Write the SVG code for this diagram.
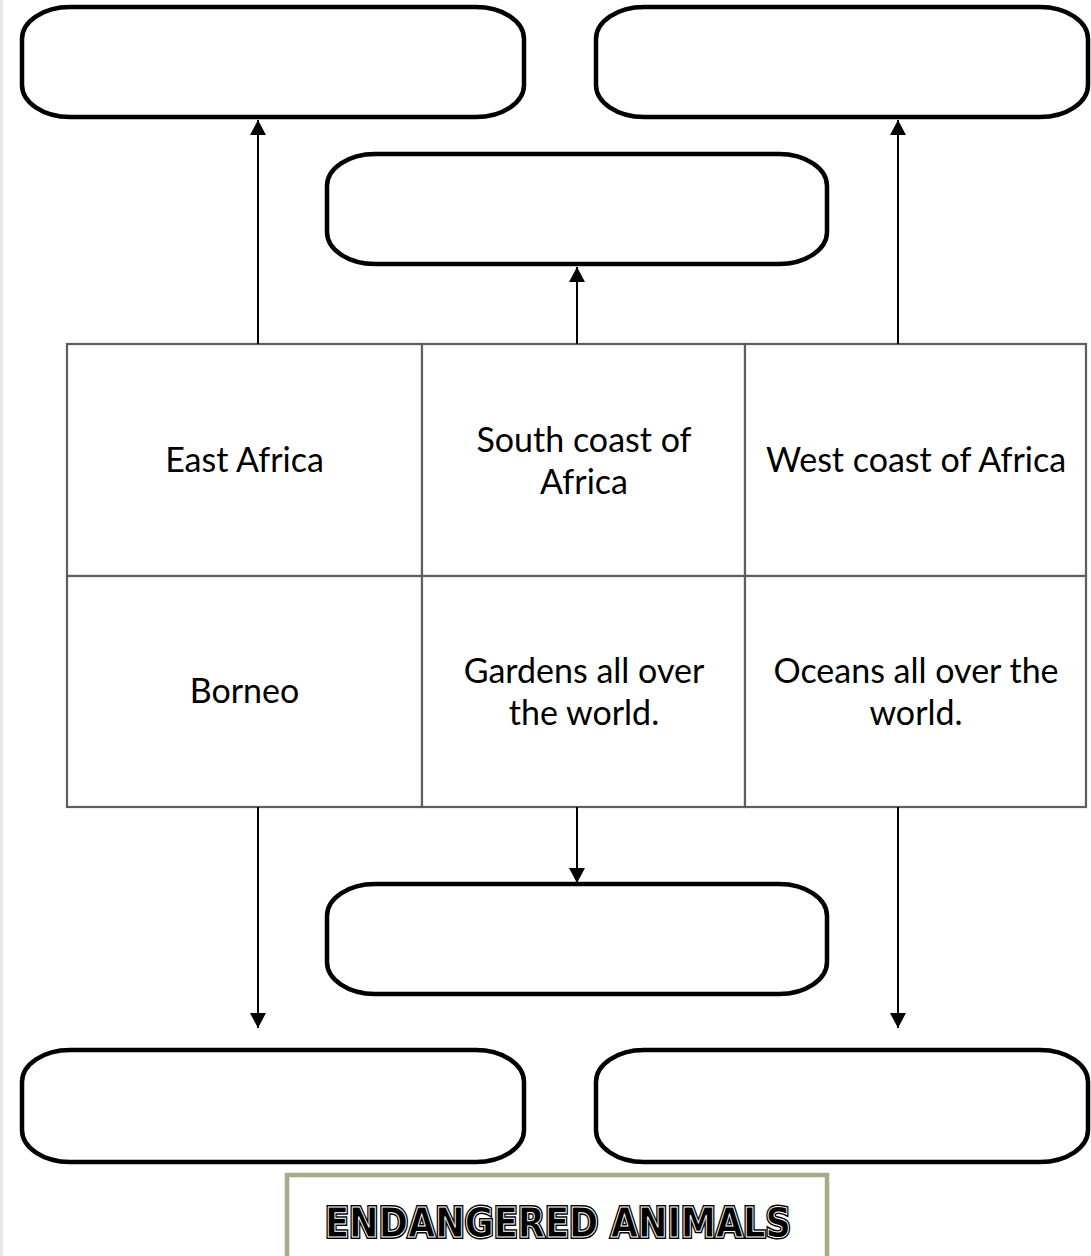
<svg xmlns="http://www.w3.org/2000/svg" width="1091" height="1256" viewBox="0 0 1091 1256">
<style>
.box{fill:#fff;stroke:#000;stroke-width:4.5}
.cell{fill:#fff;stroke:#5a5e66;stroke-width:2.2}
.lbl{font-family:Lato,"Open Sans","Liberation Sans",sans-serif;font-size:34px;fill:#000;text-anchor:middle}
.conn{stroke:#000;stroke-width:2;fill:none;marker-end:url(#ah)}
.ttl{font-family:"DejaVu Sans","Liberation Sans",sans-serif;font-weight:bold;font-size:40px;text-anchor:middle}
</style>
<defs>
<marker id="ah" markerUnits="userSpaceOnUse" markerWidth="16" markerHeight="16" refX="15" refY="8" orient="auto">
<path d="M0,0 L15,8 L0,16 Z" fill="#000"/>
</marker>
</defs>
<rect x="0" y="0" width="1091" height="1256" fill="#fff"/>
<rect x="0" y="0" width="3" height="1256" fill="#e8e8e8"/>

<g id="box-top-left"><rect class="box" x="22" y="7" width="502" height="110" rx="48" ry="32"/></g>
<g id="box-top-right"><rect class="box" x="596" y="7" width="492" height="110" rx="48" ry="32"/></g>
<g id="box-top-middle"><rect class="box" x="327" y="154" width="500" height="110" rx="48" ry="32"/></g>
<g id="box-bottom-middle"><rect class="box" x="327" y="884" width="500" height="110" rx="48" ry="32"/></g>
<g id="box-bottom-left"><rect class="box" x="22" y="1050" width="502" height="112" rx="48" ry="32"/></g>
<g id="box-bottom-right"><rect class="box" x="596" y="1050" width="492" height="112" rx="48" ry="32"/></g>

<g id="cell-east-africa"><rect class="cell" x="67" y="344" width="355" height="232"/>
<text class="lbl" x="244.5" y="472">East Africa</text></g>
<g id="cell-south-coast"><rect class="cell" x="422" y="344" width="323" height="232"/>
<text class="lbl" x="584" y="452">South coast of</text><text class="lbl" x="584" y="494">Africa</text></g>
<g id="cell-west-coast"><rect class="cell" x="745" y="344" width="341" height="232"/>
<text class="lbl" x="916" y="472">West coast of Africa</text></g>
<g id="cell-borneo"><rect class="cell" x="67" y="576" width="355" height="231"/>
<text class="lbl" x="244.5" y="703">Borneo</text></g>
<g id="cell-gardens"><rect class="cell" x="422" y="576" width="323" height="231"/>
<text class="lbl" x="584" y="683">Gardens all over</text><text class="lbl" x="584" y="725">the world.</text></g>
<g id="cell-oceans"><rect class="cell" x="745" y="576" width="341" height="231"/>
<text class="lbl" x="916" y="683">Oceans all over the</text><text class="lbl" x="916" y="725">world.</text></g>

<g id="connectors">
<line class="conn" x1="258" y1="344" x2="258" y2="120"/>
<line class="conn" x1="577" y1="344" x2="577" y2="267"/>
<line class="conn" x1="898" y1="344" x2="898" y2="120"/>
<line class="conn" x1="258" y1="807" x2="258" y2="1028"/>
<line class="conn" x1="577" y1="807" x2="577" y2="883"/>
<line class="conn" x1="898" y1="807" x2="898" y2="1028"/>
</g>

<g id="title">
<rect x="287" y="1175" width="540" height="90" fill="#fff" stroke="#a6a98a" stroke-width="4.5"/>
<text class="ttl" x="558" y="1237" textLength="466" lengthAdjust="spacingAndGlyphs" fill="#000" stroke="#000" stroke-width="4">ENDANGERED ANIMALS</text>
<text class="ttl" x="558" y="1237" textLength="466" lengthAdjust="spacingAndGlyphs" fill="#000" stroke="#fff" stroke-width="1">ENDANGERED ANIMALS</text>
</g>
</svg>
